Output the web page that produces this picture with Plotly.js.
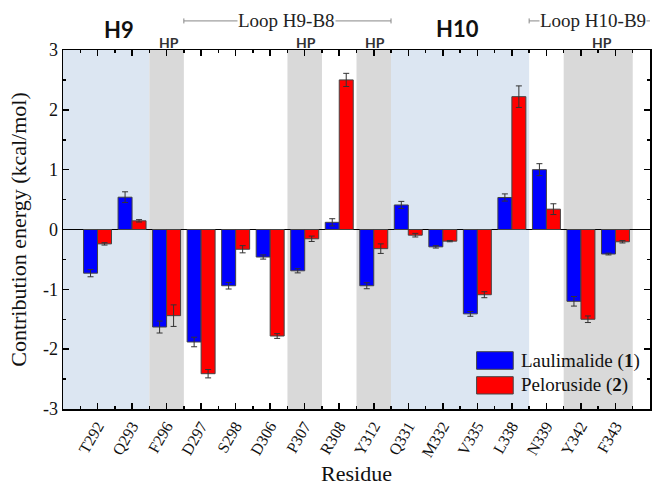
<!DOCTYPE html>
<html>
<head>
<meta charset="utf-8">
<script src="https://cdn.plot.ly/plotly-3.0.1.min.js"></script>
<style>html,body{margin:0;padding:0;background:#fff;}#chart{width:655px;height:491px;}</style>
</head>
<body>
<div id="chart"></div>
<script>
var residues = ["T292","Q293","F296","D297","S298","D306","P307","R308","Y312","Q331","M332","V335","L338","N339","Y342","F343"];
var laulimalide = [-0.73, 0.54, -1.63, -1.88, -0.94, -0.46, -0.69, 0.12, -0.94, 0.41, -0.29, -1.41, 0.535, 1.0, -1.2, -0.41];
var laulimalideErr = [0.06, 0.09, 0.10, 0.08, 0.055, 0.035, 0.035, 0.06, 0.05, 0.06, 0.02, 0.04, 0.06, 0.10, 0.08, 0.015];
var peloruside = [-0.24, 0.145, -1.44, -2.41, -0.33, -1.78, -0.155, 2.50, -0.32, -0.095, -0.195, -1.09, 2.22, 0.34, -1.5, -0.205];
var pelorusideErr = [0.02, 0.02, 0.18, 0.07, 0.06, 0.04, 0.045, 0.11, 0.08, 0.03, 0.01, 0.05, 0.18, 0.09, 0.055, 0.02];
var yTickVals = [-3, -2, -1, 0, 1, 2, 3];
var yTickText = ["-3", "-2", "-1", "0", "1", "2", "3"];
// background regions
var regionStart = [-1, 1.5, 2.5, 5.5, 6.5, 7.5, 8.5, 12.5, 13.5];
var regionEnd   = [1.5, 2.5, 5.5, 6.5, 7.5, 8.5, 12.5, 13.5, 15.5];
var regionType  = ["helix","hp","none","hp","none","hp","helix","none","hp"];

var idx = residues.map(function(_, i){ return i; });
var serif = "Liberation Serif, Times New Roman, serif";
var sans = "Lato, Open Sans, sans-serif";

var traces = [
  {type:"bar", name:"Laulimalide (1)", x: idx, y: laulimalide,
   marker:{color:"#0000ff", line:{color:"#444", width:1}},
   error_y:{type:"data", array: laulimalideErr, visible:true, color:"#333", thickness:1, width:3}},
  {type:"bar", name:"Peloruside (2)", x: idx, y: peloruside,
   marker:{color:"#ff0000", line:{color:"#444", width:1}},
   error_y:{type:"data", array: pelorusideErr, visible:true, color:"#333", thickness:1, width:3}}
];

var shapes = [];
var fills = {helix:"#dce6f2", hp:"#d9d9d9"};
for (var i = 0; i < regionStart.length; i++) {
  if (regionType[i] === "none") continue;
  shapes.push({type:"rect", xref:"x", yref:"paper", x0: regionStart[i], x1: regionEnd[i], y0:0, y1:1,
               fillcolor: fills[regionType[i]], line:{width:0}, layer:"below"});
}
function bracket(x0, x1, y) {
  shapes.push({type:"line", xref:"x", yref:"paper", x0:x0, x1:x1, y0:y, y1:y, line:{color:"#888", width:1}});
  shapes.push({type:"line", xref:"x", yref:"paper", x0:x0, x1:x0, y0:y-0.007, y1:y+0.007, line:{color:"#888", width:1}});
  shapes.push({type:"line", xref:"x", yref:"paper", x0:x1, x1:x1, y0:y-0.007, y1:y+0.007, line:{color:"#888", width:1}});
}
bracket(2.5, 8.5, 1.081);
bracket(12.5, 16.05, 1.081);
// legend swatches
shapes.push({type:"rect", xref:"paper", yref:"paper", x0:0.7046, x1:0.767, y0:0.1106, y1:0.1596, fillcolor:"#0000ff", line:{color:"#444", width:1}});
shapes.push({type:"rect", xref:"paper", yref:"paper", x0:0.7046, x1:0.767, y0:0.0418, y1:0.0900, fillcolor:"#ff0000", line:{color:"#444", width:1}});

function ann(text, xref, x, y, font, extra) {
  var a = {text:text, xref:xref, yref:"paper", x:x, y:y, xanchor:"center", yanchor:"middle", showarrow:false, font:font};
  if (extra) for (var k in extra) a[k] = extra[k];
  return a;
}
var annotations = [
  ann("<b>H9</b>", "x", 0.63, 1.056, {family:sans, size:22, color:"#111"}),
  ann("<b>H10</b>", "x", 10.42, 1.061, {family:sans, size:22, color:"#111"}),
  ann("Loop H9-B8", "x", 5.47, 1.083, {family:serif, size:19, color:"#222"}, {bgcolor:"#fff", borderpad:0}),
  ann("Loop H10-B9", "x", 14.34, 1.083, {family:serif, size:19, color:"#222"}, {bgcolor:"#fff", borderpad:0}),
  ann("<b>HP</b>", "x", 2.08, 1.022, {family:sans, size:14, color:"#333"}),
  ann("<b>HP</b>", "x", 6.03, 1.022, {family:sans, size:14, color:"#333"}),
  ann("<b>HP</b>", "x", 8.03, 1.022, {family:sans, size:14, color:"#333"}),
  ann("<b>HP</b>", "x", 14.62, 1.022, {family:sans, size:14, color:"#333"}),
  ann("Laulimalide (<b>1</b>)", "paper", 0.777, 0.135, {family:serif, size:19, color:"#111"}, {xanchor:"left"}),
  ann("Peloruside (<b>2</b>)", "paper", 0.777, 0.066, {family:serif, size:19, color:"#111"}, {xanchor:"left"})
];

var layout = {
  width:655, height:491,
  margin:{l:63, r:5, t:50, b:82},
  paper_bgcolor:"#fff", plot_bgcolor:"#fff",
  barmode:"group", bargap:0.19, bargroupgap:0,
  showlegend:false,
  xaxis:{
    range:[-1, 16], tickmode:"array", tickvals: idx, ticktext: residues,
    tickangle:-60, ticks:"inside", ticklen:6, tickwidth:1.5, tickcolor:"#000",
    minor:{tickmode:"linear", tick0:0.5, dtick:1, ticks:"inside", ticklen:3, tickwidth:1.5, tickcolor:"#000"},
    showline:true, linecolor:"#000", linewidth:1.5, mirror:"allticks",
    showgrid:false, zeroline:false,
    tickfont:{family:serif, size:16, color:"#111"},
    title:{text:"Residue", font:{family:serif, size:22, color:"#111"}, standoff:6}
  },
  yaxis:{
    range:[-3, 3], tickmode:"array", tickvals: yTickVals, ticktext: yTickText,
    ticks:"inside", ticklen:6, tickwidth:1.5, tickcolor:"#000",
    minor:{tickmode:"linear", dtick:0.5, tick0:0, ticks:"inside", ticklen:3, tickwidth:1.5, tickcolor:"#000"},
    showline:true, linecolor:"#000", linewidth:1.5, mirror:"allticks",
    showgrid:false, zeroline:true, zerolinecolor:"#000", zerolinewidth:1.5,
    tickfont:{family:serif, size:18, color:"#111"},
    title:{text:"Contribution energy (kcal/mol)", font:{family:serif, size:22, color:"#111"}, standoff:10}
  },
  shapes: shapes,
  annotations: annotations
};

Plotly.newPlot("chart", traces, layout, {displayModeBar:false, staticPlot:true});
</script>
</body>
</html>
